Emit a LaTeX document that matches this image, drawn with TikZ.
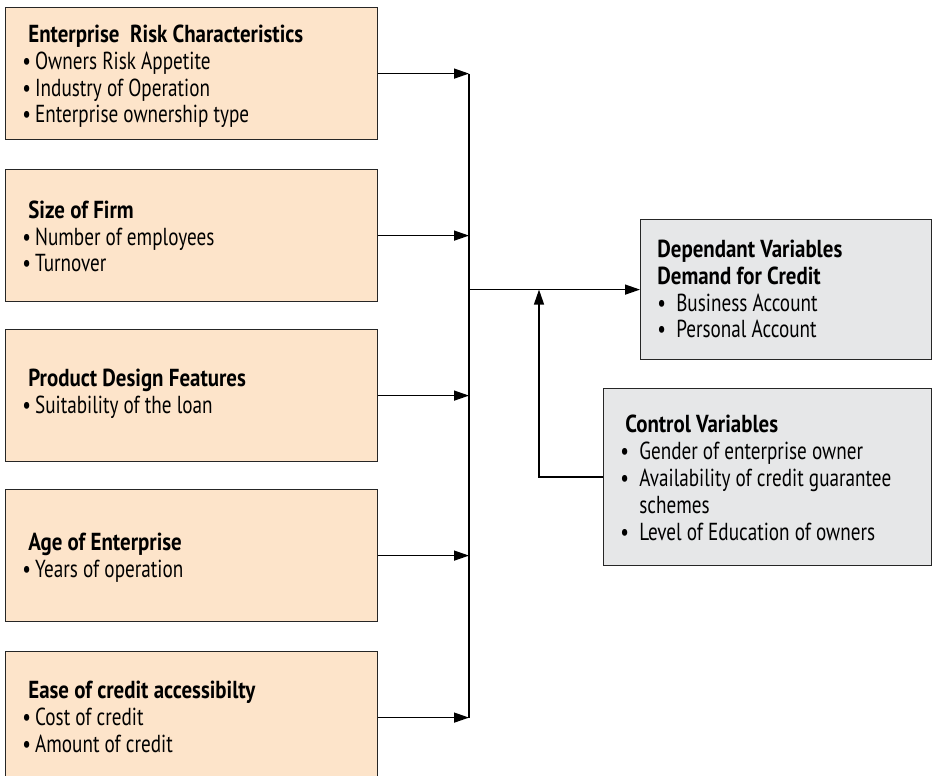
\documentclass[tikz,border=0pt]{standalone}
\usepackage{fontspec}
\setmainfont{PT Sans}[FakeStretch=0.78, BoldFeatures={FakeStretch=0.85}]
\usetikzlibrary{arrows.meta,shadows}

\definecolor{factorfill}{RGB}{253,228,202}
\definecolor{varfill}{RGB}{230,231,232}

\tikzset{
  factor/.style={draw=black!85, fill=factorfill, line width=0.7pt,
    anchor=north west, inner sep=0pt, minimum width=7.44cm, minimum height=2.64cm,
    drop shadow={shadow xshift=0.5pt, shadow yshift=-0.5pt, fill=black!45, opacity=1}},
  varbox/.style={draw=black!85, fill=varfill, line width=0.7pt,
    anchor=north west, inner sep=0pt,
    drop shadow={shadow xshift=0.5pt, shadow yshift=-0.5pt, fill=black!45, opacity=1}},
  boxtext/.style={anchor=base west, align=left, inner sep=0pt,
    font=\fontsize{14}{15.3}\selectfont},
  link/.style={line width=0.8pt, -{Triangle[length=0.3cm,width=0.2cm]}}
}

\begin{document}
\begin{tikzpicture}[x=0.02cm, y=-0.02cm]
    \useasboundingbox (0,0) rectangle (932,776);
    % factor boxes
    \node[factor] (risk) at (5,7) {};
    \node[factor] (size) at (5,169) {};
    \node[factor] (design) at (5,329) {};
    \node[factor] (age) at (5,489) {};
    \node[factor] (ease) at (5,651) {};
    % texts, anchored at the last baseline
    \node[boxtext] (risktxt) at (22,123) {\hspace{0.12cm}\textbf{Enterprise\ \ Risk Characteristics}\\
        •\,Owners Risk Appetite\\ •\,Industry of Operation\\ •\,Enterprise ownership type};
    \node[boxtext] (sizetxt) at (22,272) {\hspace{0.12cm}\textbf{Size of Firm}\\
        •\,Number of employees\\ •\,Turnover};
    \node[boxtext] (designtxt) at (22,413) {\hspace{0.12cm}\textbf{Product Design Features}\\
        •\,Suitability of the loan};
    \node[boxtext] (agetxt) at (22,577) {\hspace{0.12cm}\textbf{Age of Enterprise}\\
        •\,Years of operation};
    \node[boxtext] (easetxt) at (22,752) {\hspace{0.12cm}\textbf{Ease of credit accessibilty}\\
        •\,Cost of credit\\ •\,Amount of credit};
    % variable boxes
    \node[varbox, minimum width=5.82cm, minimum height=2.8cm] (dep) at (640,219) {};
    \node[varbox, minimum width=6.56cm, minimum height=3.54cm] (ctrl) at (603,388) {};
    \node[boxtext] (deptxt) at (657,338) {\textbf{Dependant Variables}\\
        \textbf{Demand for Credit}\\ •\ \ Business Account\\ •\ \ Personal Account};
    \node[boxtext] (ctrltxt) at (620,540) {\hspace{0.1cm}\textbf{Control Variables}\\
        •\ \ Gender of enterprise owner\\ •\ \ Availability of credit guarantee\\
        \phantom{•\ \ }schemes\\ •\ \ Level of Education of owners};
    % connectors
    \coordinate (hub) at (469,0);
    \coordinate (turn) at (539,0);
    \foreach \b in {risk,size,design,age,ease}
        \draw[link] (\b.east) -- (\b.east -| hub);
    \draw[line width=0.8pt] (risk.east -| hub) -- (ease.east -| hub);
    \draw[link] (dep.west -| hub) -- (dep.west);
    \draw[link] (ctrl.west) -| (turn |- dep.west);
\end{tikzpicture}
\end{document}
